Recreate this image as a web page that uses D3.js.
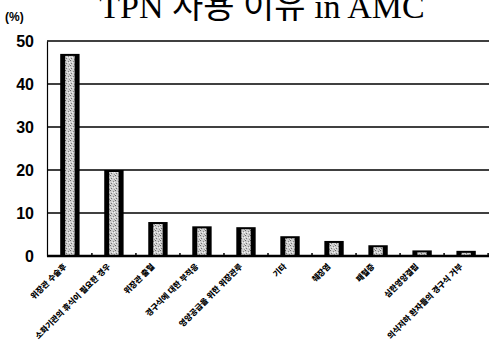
<!DOCTYPE html>
<html lang="ko">
<head>
<meta charset="UTF-8">
<title>TPN 사용 이유 in AMC</title>
<script src="https://d3js.org/d3.v7.min.js"></script>
<style>
  body { margin: 0; background: #fff; }
  svg { display: block; }
  .ytick { font-family: Arial, "Liberation Sans", sans-serif; font-weight: bold; font-size: 16px; }
  .xlab { font-family: "Noto Sans CJK KR", sans-serif; font-weight: 900; font-size: 8px; fill: #000; }
</style>
</head>
<body>
<div id="chart"></div>
<script>
  // 데이터
  const categories = [
    "위장관 수술후",
    "소화기관의 휴식이 필요한 경우",
    "위장관 출혈",
    "경구식에 대한 부적응",
    "영양공급을 위한 위장관루",
    "기타",
    "췌장염",
    "패혈증",
    "심한영양결핍",
    "의식저하 환자들의 경구식 거부"
  ];
  const values = [47, 20, 7.9, 6.9, 6.7, 4.6, 3.5, 2.5, 1.3, 1.2];
  const yTicks = [0, 10, 20, 30, 40, 50];

  const width = 489, height = 351;
  const margin = { top: 41, right: 0, bottom: 95, left: 47 };

  const svg = d3.select("#chart").append("svg")
    .attr("width", width).attr("height", height);

  // 막대 무늬 (점묘)
  const defs = svg.append("defs");
  const pat = defs.append("pattern")
    .attr("id", "speckle").attr("width", 5).attr("height", 5)
    .attr("patternUnits", "userSpaceOnUse");
  pat.append("rect").attr("width", 5).attr("height", 5).attr("fill", "#cfcfcf");
  const dots = [[0, 0, "#666"], [3, 1, "#888"], [1, 3, "#777"], [4, 4, "#999"], [2, 2, "#eee"], [4, 2, "#f4f4f4"], [0, 4, "#eaeaea"]];
  pat.selectAll("rect.d").data(dots).join("rect").attr("class", "d")
    .attr("x", d => d[0]).attr("y", d => d[1]).attr("width", 1).attr("height", 1).attr("fill", d => d[2]);

  const x = d3.scaleBand()
    .domain(categories)
    .range([margin.left, width - margin.right])
    .paddingInner(0.56).paddingOuter(0.3);

  const y = d3.scaleLinear()
    .domain([0, 50])
    .range([height - margin.bottom, margin.top]);

  // 제목 (위쪽이 잘려 있음)
  svg.append("text")
    .attr("x", 262).attr("y", 18)
    .attr("text-anchor", "middle")
    .style("font-family", "'Liberation Serif', 'Noto Sans CJK KR', serif")
    .style("font-size", "34px")
    .text("TPN 사용 이유 in AMC");

  svg.append("text")
    .attr("x", 5).attr("y", 21)
    .style("font-family", "Arial, 'Liberation Sans', sans-serif")
    .style("font-weight", "bold").style("font-size", "12px")
    .text("(%)");

  // 격자선
  svg.append("g")
    .selectAll("line")
    .data(yTicks.filter(d => d > 0))
    .join("line")
    .attr("x1", margin.left).attr("x2", width - margin.right)
    .attr("y1", d => y(d)).attr("y2", d => y(d))
    .attr("stroke", "#000").attr("stroke-width", 1.5);

  // y축
  const yAxis = svg.append("g")
    .attr("transform", `translate(${margin.left},0)`)
    .call(d3.axisLeft(y).tickValues(yTicks).tickSize(0).tickPadding(13));
  yAxis.select(".domain").attr("stroke", "#000").attr("stroke-width", 1.2);
  yAxis.selectAll("text").attr("class", "ytick").attr("fill", "#000");

  // 막대
  const bars = svg.append("g");
  bars.selectAll("rect.outer")
    .data(values)
    .join("rect")
    .attr("class", "outer")
    .attr("x", (d, i) => x(categories[i]))
    .attr("y", d => y(d))
    .attr("width", x.bandwidth())
    .attr("height", d => y(0) - y(d))
    .attr("fill", "#000");
  bars.selectAll("rect.inner")
    .data(values)
    .join("rect")
    .attr("class", "inner")
    .attr("x", (d, i) => x(categories[i]) + 5)
    .attr("y", d => y(d) + 2)
    .attr("width", x.bandwidth() - 10)
    .attr("height", d => Math.max(0, y(0) - y(d) - 3))
    .attr("fill", "url(#speckle)");

  // 기준선
  svg.append("line")
    .attr("x1", margin.left).attr("x2", width - margin.right)
    .attr("y1", y(0)).attr("y2", y(0))
    .attr("stroke", "#000").attr("stroke-width", 2.5);

  // 작은 눈금
  svg.append("g")
    .selectAll("line")
    .data(categories)
    .join("line")
    .attr("x1", d => x(d) + x.bandwidth() + x.step() * 0.28)
    .attr("x2", d => x(d) + x.bandwidth() + x.step() * 0.28)
    .attr("y1", y(0)).attr("y2", y(0) - 3)
    .attr("stroke", "#000").attr("stroke-width", 1.5);

  // x축 라벨
  svg.append("g")
    .selectAll("text")
    .data(categories)
    .join("text")
    .attr("class", "xlab")
    .attr("text-anchor", "end")
    .attr("transform", d => `translate(${x(d) + x.bandwidth() / 2 - 3},${y(0) + 11}) rotate(-45)`)
    .text(d => d);
</script>
</body>
</html>
